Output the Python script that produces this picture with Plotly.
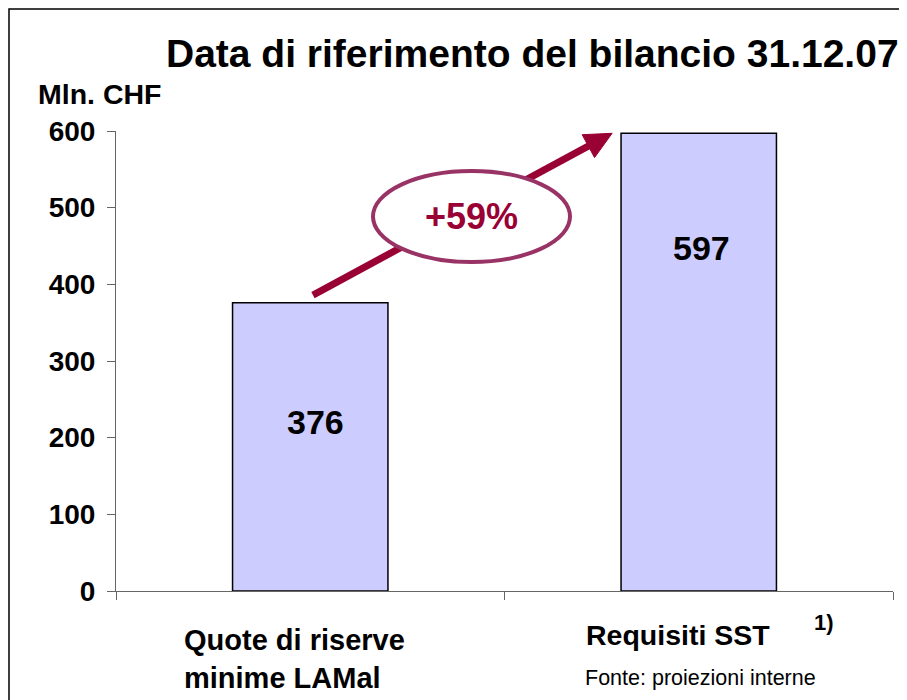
import plotly.graph_objects as go

# ---- data ----
categories = ["Quote di riserve<br>minime LAMal", "Requisiti SST"]
values = [376, 597]
y_ticks = [0, 100, 200, 300, 400, 500, 600]
title_text = "Data di riferimento del bilancio 31.12.07"
unit_text = "Mln. CHF"
footnote_mark = "1)"
source_text = "Fonte: proiezioni interne"

# ---- layout geometry ----
# page pixels are measured on the 907x700 screenshot; the page body adds an 8px offset
OFF = 8
W, H = 907 - OFF, 700 - OFF
PLOT_LEFT, PLOT_RIGHT, PLOT_TOP, PLOT_BOTTOM = 116, 893, 131, 591  # page pixels
L = PLOT_LEFT - OFF
T = PLOT_TOP - OFF
R = W - (PLOT_RIGHT - OFF)
B = H - (PLOT_BOTTOM - OFF)
PW, PH = PLOT_RIGHT - PLOT_LEFT, PLOT_BOTTOM - PLOT_TOP
YMAX = 600

def px(x):
    return (x - PLOT_LEFT) / PW

def py(y):
    return (PLOT_BOTTOM - y) / PH

def data_to_pix(xc, yv):
    # category coordinate (-0.5..1.5) and value -> page pixels
    return PLOT_LEFT + (xc + 0.5) * PW / 2, PLOT_BOTTOM - yv / YMAX * PH

FONT = "Liberation Sans, Arial, sans-serif"
BAR_COLOR = "#CCCCFF"
ARROW_COLOR = "#990033"
ELLIPSE_COLOR = "#993366"
AXIS_COLOR = "#666666"

fig = go.Figure()
fig.add_trace(go.Bar(
    x=categories, y=values,
    marker=dict(color=BAR_COLOR, line=dict(color="black", width=1.5)),
    hoverinfo="skip",
))

shapes = []
# outer frame
shapes.append(dict(type="rect", xref="paper", yref="paper",
                   x0=px(9), x1=px(1200), y0=py(1000), y1=py(9),
                   line=dict(color="black", width=1.5), fillcolor="rgba(0,0,0,0)",
                   layer="below"))

# growth arrow from first bar to second bar
tx, ty = data_to_pix(0.007, values[0] + 10)
hx, hy = data_to_pix(0.777, values[1])
dx, dy = hx - tx, hy - ty
ln = (dx * dx + dy * dy) ** 0.5
ux, uy = dx / ln, dy / ln
nx, ny = -uy, ux
head_len, head_half = 27, 13
bx, by = hx - head_len * ux, hy - head_len * uy
shapes.append(dict(type="line", xref="paper", yref="paper",
                   x0=px(tx), y0=py(ty), x1=px(bx + 2 * ux), y1=py(by + 2 * uy),
                   line=dict(color=ARROW_COLOR, width=7), layer="above"))
c1 = (bx + head_half * nx, by + head_half * ny)
c2 = (bx - head_half * nx, by - head_half * ny)
path = "M {} {} L {} {} L {} {} Z".format(px(hx), py(hy), px(c1[0]), py(c1[1]), px(c2[0]), py(c2[1]))
shapes.append(dict(type="path", xref="paper", yref="paper", path=path,
                   fillcolor=ARROW_COLOR, line=dict(color=ARROW_COLOR, width=1), layer="above"))
# ellipse around the percentage
shapes.append(dict(type="circle", xref="paper", yref="paper",
                   x0=px(373), x1=px(570), y0=py(262), y1=py(171),
                   line=dict(color=ELLIPSE_COLOR, width=4), fillcolor="white", layer="above"))

pct = round((values[1] / values[0] - 1) * 100)

annotations = [
    dict(text=title_text, x=px(532), y=py(53), xref="paper", yref="paper",
         xanchor="center", yanchor="middle", showarrow=False,
         font=dict(family=FONT, size=39, color="black", weight="bold")),
    dict(text=unit_text, x=px(36), y=py(94), xref="paper", yref="paper",
         xanchor="left", yanchor="middle", showarrow=False,
         font=dict(family=FONT, size=28.5, color="black", weight="bold")),
    dict(text=categories[0], x=px(182), y=py(622), xref="paper", yref="paper",
         xanchor="left", yanchor="top", align="left", showarrow=False,
         font=dict(family=FONT, size=29, color="black", weight="bold")),
    dict(text=categories[1], x=px(678), y=py(635), xref="paper", yref="paper",
         xanchor="center", yanchor="middle", showarrow=False,
         font=dict(family=FONT, size=28.5, color="black", weight="bold")),
    dict(text=footnote_mark, x=px(824), y=py(622), xref="paper", yref="paper",
         xanchor="center", yanchor="middle", showarrow=False,
         font=dict(family=FONT, size=22, color="black", weight="bold")),
    dict(text=source_text, x=px(583), y=py(678), xref="paper", yref="paper",
         xanchor="left", yanchor="middle", showarrow=False,
         font=dict(family=FONT, size=21.5, color="black")),
    dict(text="+{}%".format(pct), x=px(471), y=py(216), xref="paper", yref="paper",
         xanchor="center", yanchor="middle", showarrow=False,
         font=dict(family=FONT, size=36, color=ARROW_COLOR, weight="bold")),
]
# value labels inside bars
label_pos = [(315, 422), (701, 248)]
for v, (lx, ly) in zip(values, label_pos):
    annotations.append(dict(text=str(v), x=px(lx), y=py(ly), xref="paper", yref="paper",
                            xanchor="center", yanchor="middle", showarrow=False,
                            font=dict(family=FONT, size=34, color="black", weight="bold")))

fig.update_layout(
    width=W, height=H,
    margin=dict(l=L, r=R, t=T, b=B, autoexpand=False),
    paper_bgcolor="white", plot_bgcolor="white",
    bargap=0.6, showlegend=False,
    shapes=shapes, annotations=annotations,
    font=dict(family=FONT),
)
fig.update_xaxes(type="category", range=[-0.5, 1.5], showticklabels=False,
                 ticks="outside", ticklen=8, tickcolor=AXIS_COLOR, tickson="boundaries",
                 showline=True, linecolor=AXIS_COLOR, linewidth=1, showgrid=False,
                 zeroline=False, fixedrange=True)
fig.update_yaxes(range=[0, YMAX], tickvals=y_ticks, ticktext=[str(t) for t in y_ticks],
                 ticks="outside", ticklen=8, tickcolor=AXIS_COLOR,
                 tickfont=dict(family=FONT, size=28, color="black", weight="bold"),
                 ticklabelstandoff=6,
                 showline=True, linecolor=AXIS_COLOR, linewidth=1, showgrid=False,
                 zeroline=False, fixedrange=True)

fig.write_html("out.html")
